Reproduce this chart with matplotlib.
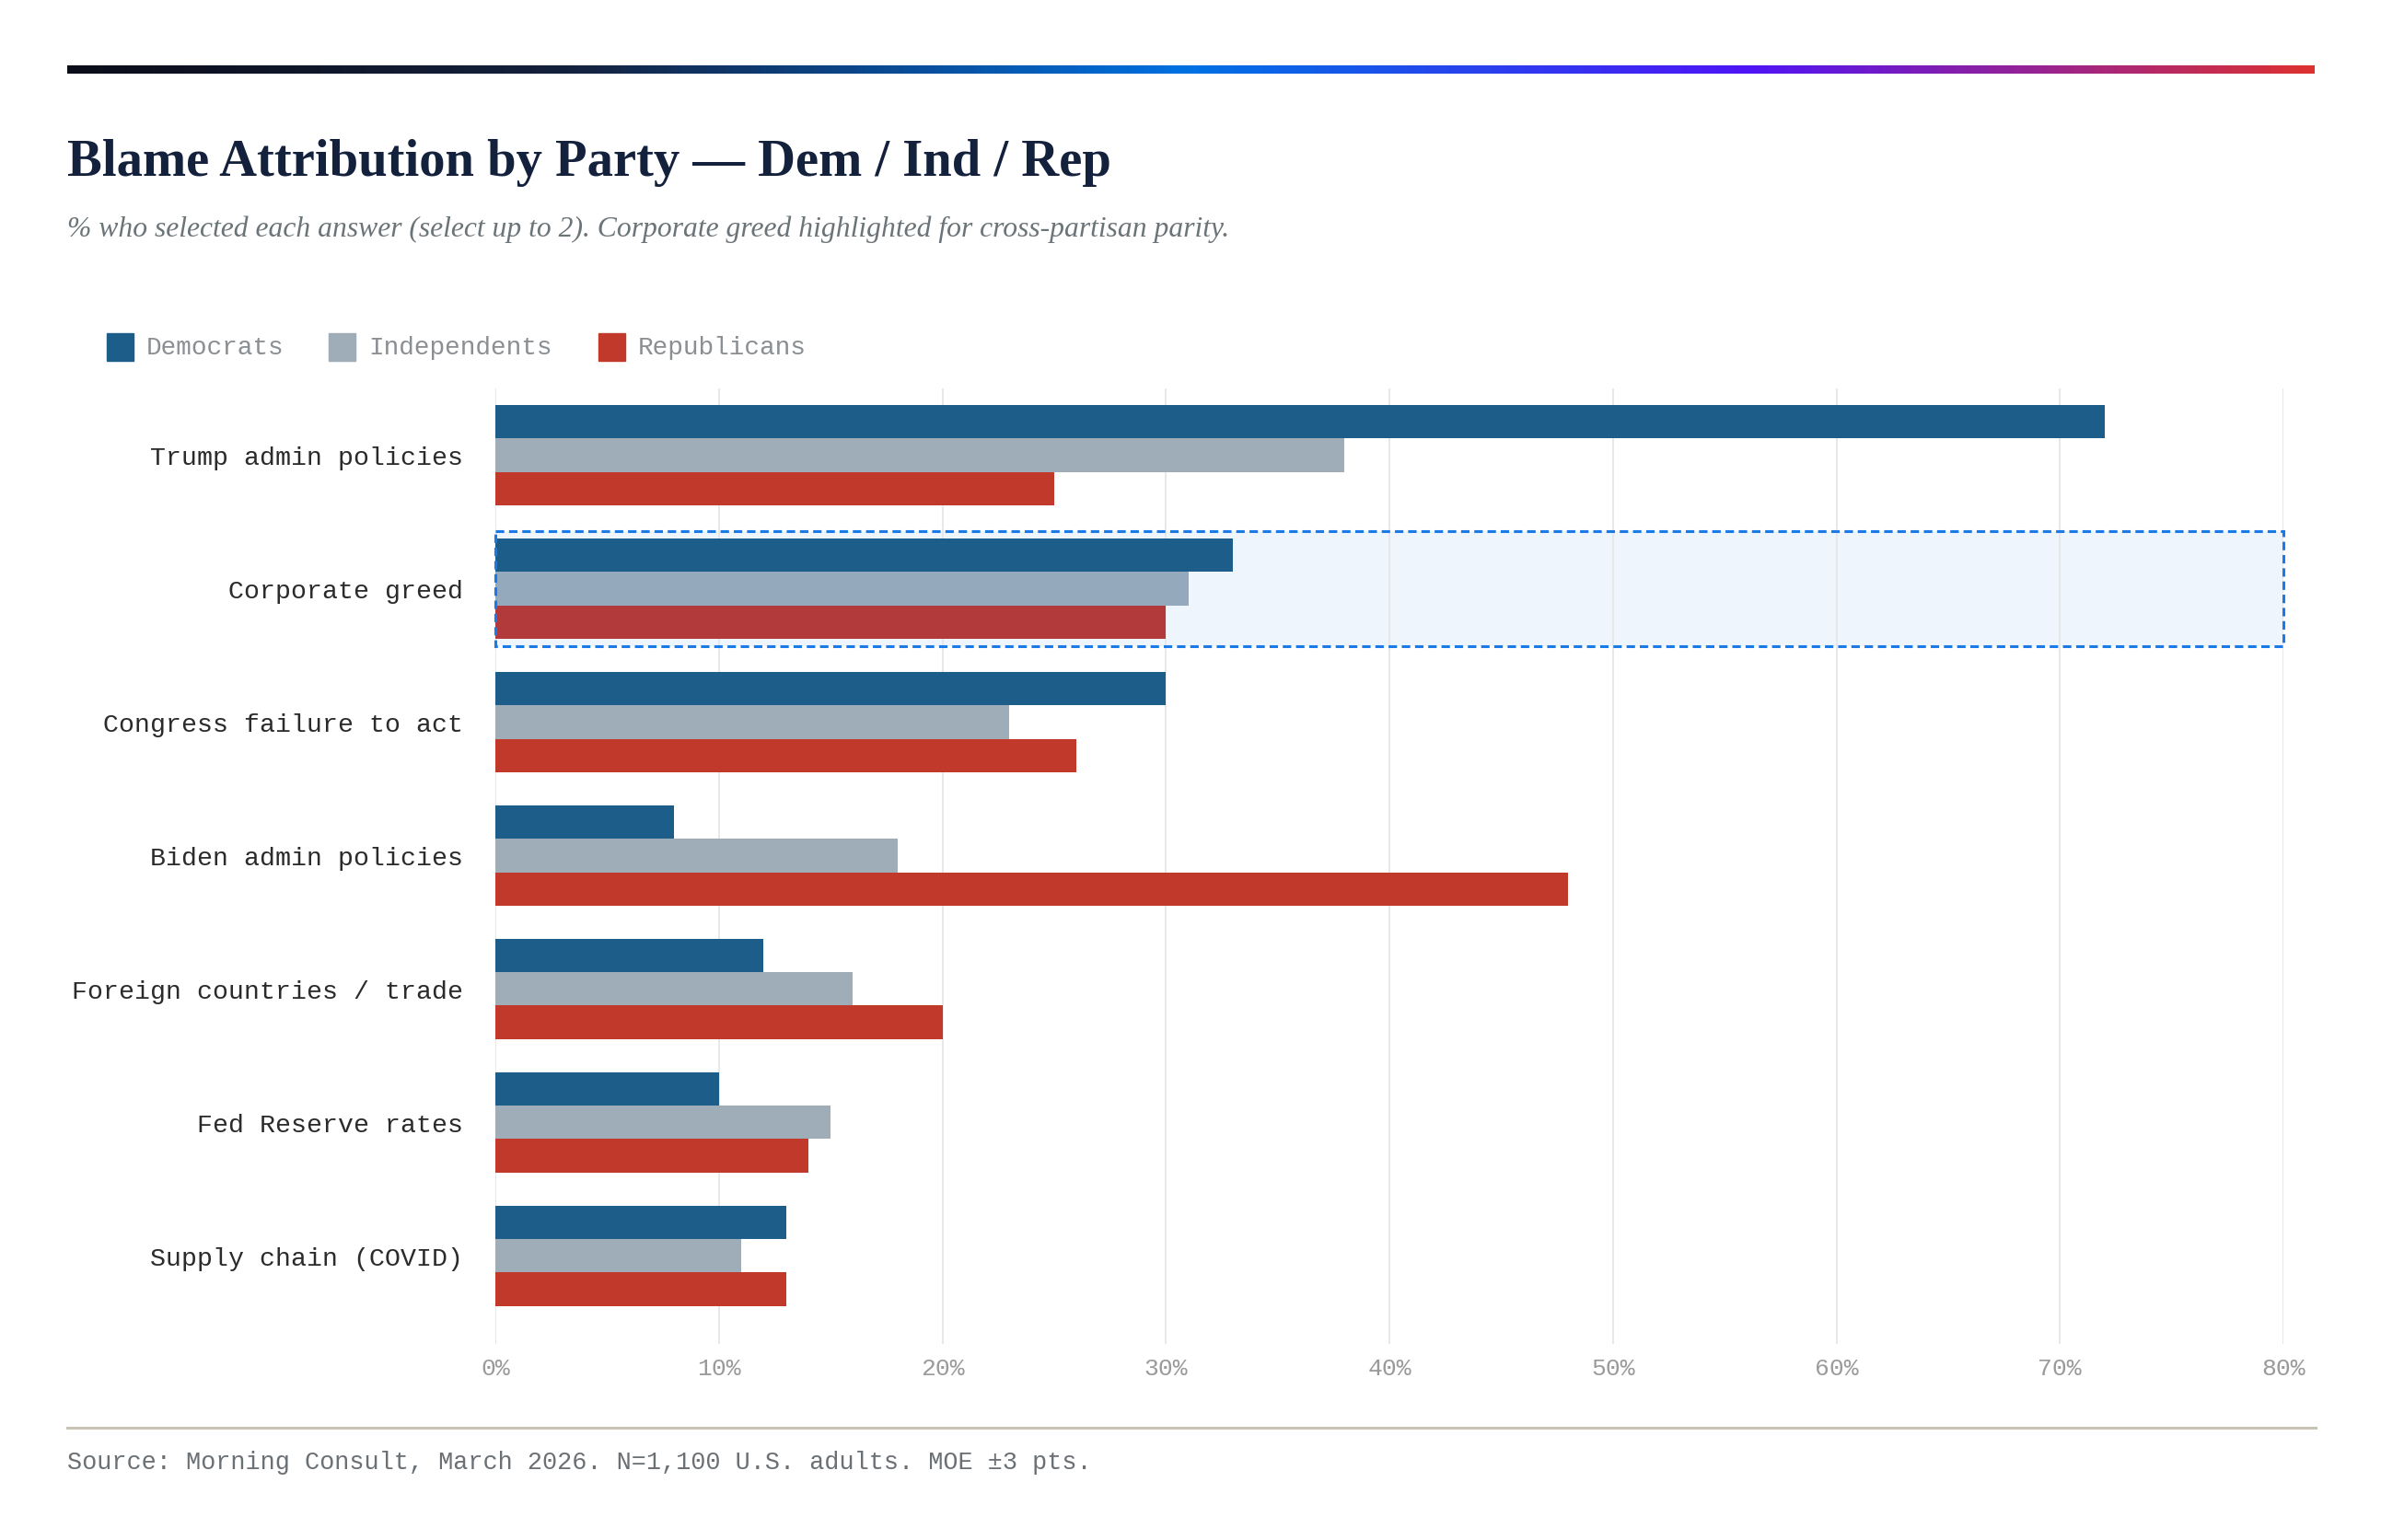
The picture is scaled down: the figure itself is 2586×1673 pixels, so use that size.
import numpy as np
import matplotlib
matplotlib.use("Agg")
import matplotlib.pyplot as plt
from matplotlib.patches import Rectangle
from matplotlib.colors import LinearSegmentedColormap

# datos
categories = ["Trump admin policies", "Corporate greed", "Congress failure to act",
              "Biden admin policies", "Foreign countries / trade", "Fed Reserve rates",
              "Supply chain (COVID)"]
series_names = ["Democrats", "Independents", "Republicans"]
dem = [72, 33, 30, 8, 12, 10, 13]
ind = [38, 31, 23, 18, 16, 15, 11]
rep = [25, 30, 26, 48, 20, 14, 13]
x_ticks = [0, 10, 20, 30, 40, 50, 60, 70, 80]
highlight = "Corporate greed"

title = "Blame Attribution by Party \u2014 Dem / Ind / Rep"
subtitle = ("% who selected each answer (select up to 2). Corporate greed "
            "highlighted for cross-partisan parity.")
source = "Source: Morning Consult, March 2026. N=1,100 U.S. adults. MOE \u00b13 pts."

# estilos
colors = ["#1c5d8a", "#9eadb8", "#c0392b"]
colors_hl = ["#1c5d8a", "#94a9bb", "#b33a3a"]
MONO = "Liberation Mono"
SERIF = "Liberation Serif"

W, H = 2586, 1674
fig = plt.figure(figsize=(W / 100, H / 100), dpi=100)
fig.patch.set_facecolor("white")

def fx(px):
    return px / W

def fy(py):
    return 1 - py / H

# barra de degradado arriba
grad_ax = fig.add_axes([fx(73), fy(81), fx(2514 - 73), 9 / H])
cmap = LinearSegmentedColormap.from_list(
    "bar", [(0.0, "#0b0d1a"), (0.22, "#14213d"), (0.5, "#0071e3"),
            (0.75, "#4f14f7"), (1.0, "#dc3131")])
grad_ax.imshow(np.linspace(0, 1, 600)[None, :], aspect="auto", cmap=cmap)
grad_ax.axis("off")

# titulo y subtitulo
fig.text(fx(73), fy(191), title, fontsize=40.8, fontweight="bold", family=SERIF,
         color="#14213d", va="baseline", ha="left")
fig.text(fx(73), fy(257), subtitle, fontsize=22.8, style="italic", family=SERIF,
         color="#6b7478", va="baseline", ha="left")

# leyenda manual
legend_x = [116, 357, 650]
for name, c, lx in zip(series_names, colors, legend_x):
    fig.add_artist(Rectangle((fx(lx), fy(393)), fx(29), 30 / H, color=c,
                             transform=fig.transFigure))
    fig.text(fx(lx + 43), fy(378), name, fontsize=20, family=MONO,
             color="#8a8f93", va="center", ha="left")

# grafico principal
ax = fig.add_axes([fx(538), fy(1461), fx(2480 - 538), (1461 - 423) / H])
y = np.arange(len(categories))
h = 0.25
for i, vals in enumerate([dem, ind, rep]):
    cols = [colors_hl[i] if cat == highlight else colors[i] for cat in categories]
    ax.barh(y + (i - 1) * h, vals, height=h, color=cols, zorder=2)

# caja de resaltado
hi = categories.index(highlight)
ax.add_patch(Rectangle((0, hi - 0.434), 80, 0.868, facecolor="#eef5fd",
                       edgecolor="none", zorder=0.3))
ax.add_patch(Rectangle((0, hi - 0.434), 80, 0.868, fill=False, edgecolor="#1a7ae8",
                       lw=2.2, linestyle=(0, (3, 1.7)), zorder=4, clip_on=False))

ax.set_xlim(0, 80)
ax.set_ylim(len(categories) - 1 + 0.66, -0.5)
ax.set_xticks(x_ticks)
ax.set_xticklabels([f"{v}%" for v in x_ticks], family=MONO, fontsize=19, color="#9a9a9a")
ax.set_yticks(y)
ax.set_yticklabels(categories, family=MONO, fontsize=20.3, color="#2b2b2b")
ax.tick_params(axis="both", length=0)
ax.tick_params(axis="y", pad=25)
ax.tick_params(axis="x", pad=10)
ax.grid(axis="x", color="#e6e6e6", lw=1.3)
ax.set_axisbelow(True)
for s in ax.spines.values():
    s.set_visible(False)

# linea separadora y fuente
fig.add_artist(plt.Line2D([fx(73), fx(2515)], [fy(1552), fy(1552)], color="#c8c3b4",
                          lw=2.2, transform=fig.transFigure))
fig.text(fx(73), fy(1589), source, fontsize=19.4, family=MONO, color="#6b7075",
         va="center", ha="left")

fig.savefig("out.png", dpi=100)
